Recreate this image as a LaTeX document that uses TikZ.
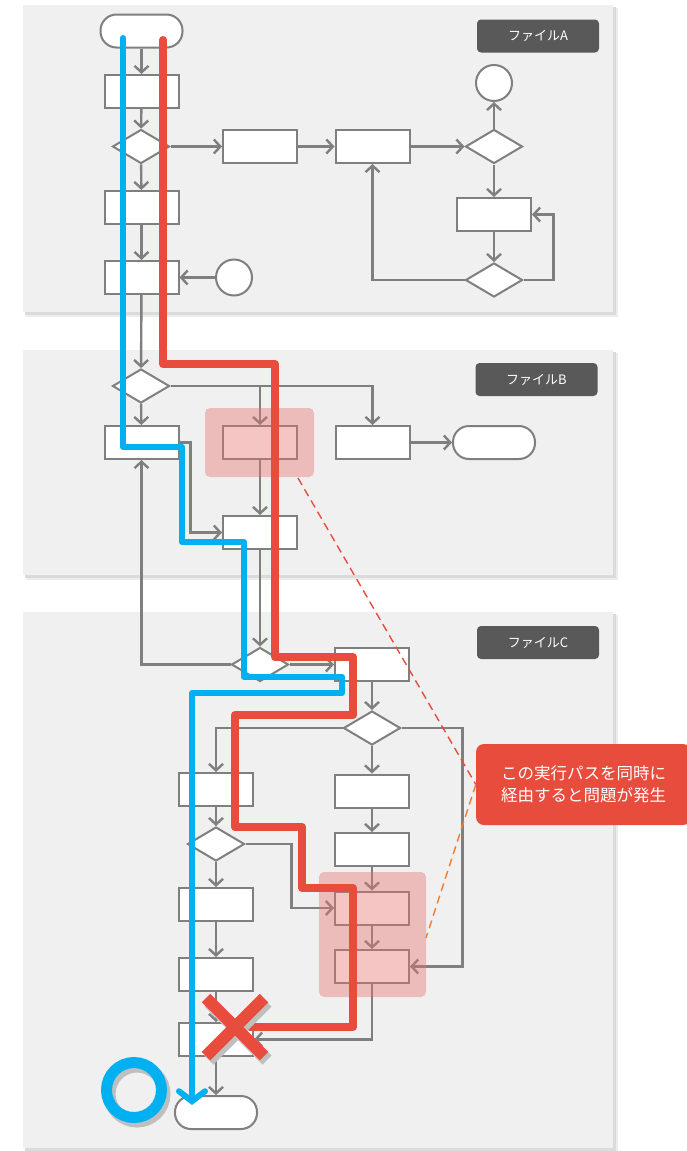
\documentclass[tikz,border=0pt]{standalone}
\usepackage{fontspec}
\setmainfont{Noto Sans CJK JP}
\usetikzlibrary{shapes.geometric,arrows.meta}
\definecolor{lineg}{RGB}{127,127,127}
\definecolor{panelbg}{RGB}{240,240,240}
\definecolor{labelbg}{RGB}{89,89,89}
\definecolor{redp}{RGB}{231,76,60}
\definecolor{bluep}{RGB}{0,176,240}
\definecolor{hlred}{RGB}{230,112,105}
\definecolor{orangep}{RGB}{237,125,49}
\tikzset{
  box/.style={rectangle,draw=lineg,fill=white,line width=2pt,minimum width=74pt,minimum height=33pt,inner sep=0pt},
  dia/.style={diamond,draw=lineg,fill=white,line width=2pt,minimum width=57pt,minimum height=34pt,inner sep=0pt},
  term/.style={rectangle,rounded corners=16pt,draw=lineg,fill=white,line width=2pt,minimum width=82pt,minimum height=33pt,inner sep=0pt},
  circ/.style={circle,draw=lineg,fill=white,line width=2pt,minimum size=36pt,inner sep=0pt},
  conn/.style={draw=lineg,line width=2.4pt,-{Straight Barb[length=6.5pt,width=14pt]}},
  panel/.style={fill=panelbg},
  flabel/.style={rectangle,rounded corners=4pt,fill=labelbg,text=white,minimum width=122pt,minimum height=33pt,inner sep=0pt,font=\fontsize{13}{15}\selectfont},
  hl/.style={fill=hlred,fill opacity=0.4,rounded corners=5pt},
  redpath/.style={draw=redp,line width=8pt,line cap=round,line join=round},
  bluepath/.style={draw=bluep,line width=6pt,line cap=round,line join=round}
}
\begin{document}
\begin{tikzpicture}[x=1pt,y=-1pt]
\useasboundingbox (0,0) rectangle (687,1151);
% panels with shadows
\foreach \ya/\yb in {5/312,350/575,612/1148}{
  \fill[black!7] (26,\ya+3) rectangle (618,\yb+5);
  \fill[black!14] (25,\ya+2) rectangle (616,\yb+3);
  \fill[panel] (23,\ya) rectangle (613,\yb);
}
\node[flabel] (la) at (538,36) {ファイルA};
\node[flabel] (lb) at (536.5,379.5) {ファイルB};
\node[flabel] (lc) at (538,642.5) {ファイルC};

% ---------- Panel A ----------
\node[term] (aS) at (141.5,31) {};
\node[box] (a1) at (141.5,91.5) {};
\node[dia] (ad1) at (141,146.5) {};
\node[box] (a2) at (141.5,207.5) {};
\node[box] (a3) at (141.5,277.5) {};
\node[circ] (ac1) at (234,277.5) {};
\node[box] (a4) at (260,146.5) {};
\node[box] (a5) at (372.5,146.5) {};
\node[dia] (ad2) at (494,146.5) {};
\node[circ] (ac2) at (494,83) {};
\node[box] (a6) at (494,214.5) {};
\node[dia] (ad3) at (494,280) {};

% ---------- Panel B ----------
\node[dia] (bd) at (141,386) {};
\node[box] (b1) at (141.5,442.5) {};
\node[box] (b2) at (260,442.5) {};
\node[box] (b3) at (372.5,442.5) {};
\node[term] (bT) at (494,442.5) {};
\node[box] (b4) at (260,532.5) {};

% ---------- Panel C ----------
\node[dia] (cd1) at (260,664.5) {};
\node[box] (c1) at (372,664.5) {};
\node[dia] (cd2) at (372,728) {};
\node[box] (cR2) at (372,791) {};
\node[box] (cR3) at (372,849.5) {};
\node[box] (cR4) at (372,908) {};
\node[box] (cR5) at (372,966.5) {};
\node[box] (cL1) at (216,789.5) {};
\node[dia] (cd3) at (216,844) {};
\node[box] (cL2) at (216,904.5) {};
\node[box] (cL3) at (216,974.5) {};
\node[box] (cL4) at (216,1039.5) {};
\node[term] (cE) at (216,1112.5) {};

% ---------- connectors A ----------
\draw[conn] (aS.south -| a1.north) -- (a1.north);
\draw[conn] (a1) -- (ad1);
\draw[conn] (ad1) -- (a2);
\draw[conn] (a2) -- (a3);
\draw[conn] (ac1) -- (a3);
\draw[conn] (a3) -- (bd);
\draw[conn] (ad1.east) -- (a4.west);
\draw[conn] (a4) -- (a5);
\draw[conn] (a5.east) -- (ad2.west);
\draw[conn] (ad2) -- (ac2);
\draw[conn] (ad2) -- (a6);
\draw[conn] (a6) -- (ad3);
\draw[conn] (ad3.east) -- ++(30,0) |- (a6.east);
\draw[conn] (ad3.west) -| (a5.south);

% ---------- connectors B ----------
\draw[conn] (bd) -- (b1);
\draw[conn] (bd.east) -| (b3.north);
\draw[conn] (b2.north |- bd.east) -- (b2.north);
\draw[conn] (b3) -- (bT);
\draw[conn] (b2) -- (b4);
\draw[conn] (b1.east) -- ++(11,0) |- (b4.west);
\draw[conn] (b4) -- (cd1);

% ---------- connectors C ----------
\draw[conn] (cd1.east) -- (c1.west);
\draw[conn] (cd1.west) -| (b1.south);
\draw[conn] (c1) -- (cd2);
\draw[conn] (cd2.west) -| (cL1.north);
\draw[conn] (cd2.east) -- ++(61,0) |- (cR5.east);
\draw[conn] (cd2) -- (cR2);
\draw[conn] (cR2) -- (cR3);
\draw[conn] (cR3) -- (cR4);
\draw[conn] (cR4) -- (cR5);
\draw[conn] (cL1) -- (cd3);
\draw[conn] (cd3.east) -- ++(46,0) |- (cR4.west);
\draw[conn] (cd3) -- (cL2);
\draw[conn] (cL2) -- (cL3);
\draw[conn] (cL3) -- (cL4);
\draw[conn] (cR5.south) |- (cL4.east);
\draw[conn] (cL4) -- (cE);

% ---------- highlights ----------
\fill[hl] (205,408) rectangle (314,477);
\fill[hl] (319,872) rectangle (426,997);

% ---------- callout ----------
\node[rectangle,rounded corners=8pt,fill=redp,text=white,minimum width=215pt,minimum height=81pt,inner sep=0pt,align=center,font=\fontsize{16.5}{22}\selectfont] (call) at (583.5,784.5) {この実行パスを同時に\\経由すると問題が発生};
\draw[redp,line width=1.4pt,dash pattern=on 8pt off 5pt] (298,478) -- (call.west);
\draw[orangep,line width=1.4pt,dash pattern=on 8pt off 5pt] (call.west) -- (426,938);

% ---------- execution paths ----------
\draw[redpath] (163,40) -- (163,364) -- (275,364) -- (275,657) -- (353,657) -- (353,715) -- (235,715) -- (235,827) -- (302,827) -- (302,888) -- (353,888) -- (353,1027) -- (250,1027);
\draw[bluepath,-{Straight Barb[length=10pt,width=26pt,line cap=round]}] (123,38) -- (123,447) -- (182,447) -- (182,542) -- (244,542) -- (244,677) -- (342,677) -- (342,693) -- (192,693) -- (192,1105);

% ---------- marks ----------
\begin{scope}[shift={(3,4)}]
\draw[black!25,line width=13pt] (206,998) -- (264,1056) (206,1056) -- (264,998);
\draw[black!25,line width=12pt] (134,1090) circle (27.5);
\end{scope}
\draw[redp,line width=12pt] (206,998) -- (264,1056) (206,1056) -- (264,998);
\draw[bluep,line width=11pt] (134,1090) circle (27.5);
\end{tikzpicture}
\end{document}
